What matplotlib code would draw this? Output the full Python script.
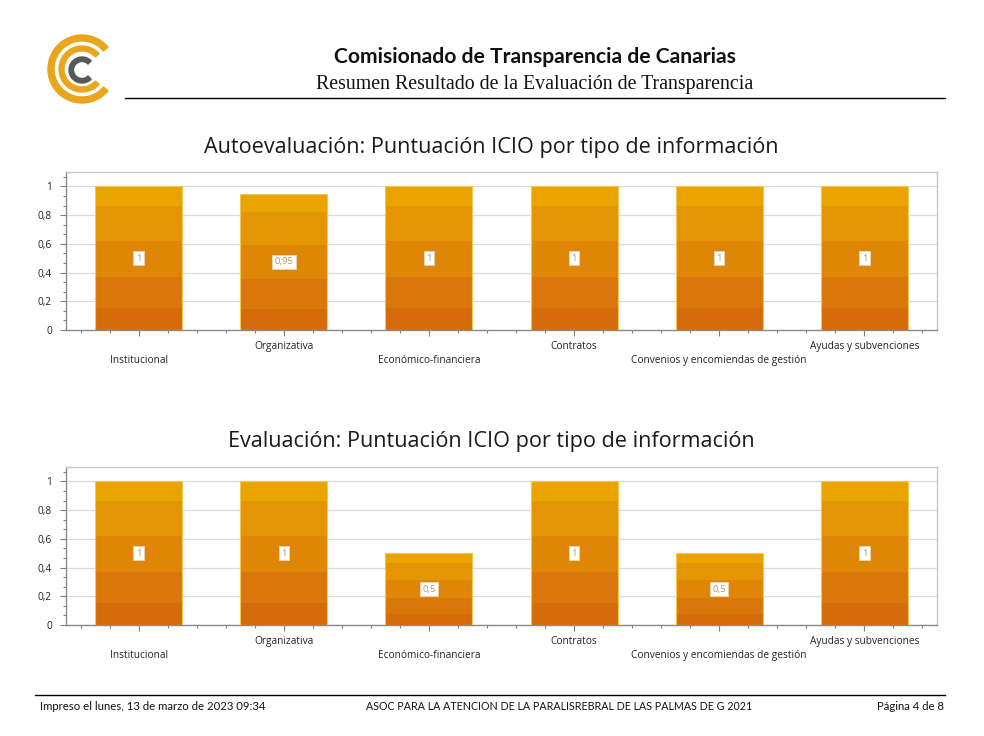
# Resumen de puntuación ICIO por tipo de información
import numpy as np
import matplotlib.pyplot as plt
from matplotlib.patches import Wedge
from matplotlib.ticker import FixedLocator, MultipleLocator, AutoMinorLocator, FuncFormatter

# Datos
categorias = ['Institucional', 'Organizativa', 'Económico-financiera', 'Contratos',
              'Convenios y encomiendas de gestión', 'Ayudas y subvenciones']
autoevaluacion = [1, 0.95, 1, 1, 1, 1]
evaluacion = [1, 1, 0.5, 1, 0.5, 1]

titulo_auto = 'Autoevaluación: Puntuación ICIO por tipo de información'
titulo_eval = 'Evaluación: Puntuación ICIO por tipo de información'

W, H = 984, 736
fig = plt.figure(figsize=(W / 100, H / 100), dpi=100)
fig.patch.set_facecolor('white')

fuente_graf = ['Open Sans', 'DejaVu Sans']
fuente_doc = ['Lato', 'DejaVu Sans']


def fmt_coma(v):
    return f"{v:g}".replace('.', ',')


# bandas del degradado (de abajo a arriba)
cortes = [0.15, 0.37, 0.62, 0.86, 1.0]
colores_banda = ['#D56B0B', '#DA770A', '#DF8606', '#E49503', '#E9A400']
filas = np.linspace(0, 1, 200, endpoint=False) + 0.0025
idx = np.searchsorted(cortes, filas)
rgb = np.array([[int(c[i:i + 2], 16) / 255 for i in (1, 3, 5)] for c in colores_banda])
gradiente = rgb[idx].reshape(200, 1, 3)


def dibujar(top_px, valores, titulo, titulo_y):
    bottom_px = top_px + 158
    ax = fig.add_axes([66 / W, 1 - bottom_px / H, (937 - 66) / W, 158 / H])
    x = np.arange(len(categorias))
    barras = ax.bar(x, valores, width=0.6, color='#DF8606', zorder=2, linewidth=0)
    for rect in barras:
        x0, w, h = rect.get_x(), rect.get_width(), rect.get_height()
        im = ax.imshow(gradiente, extent=(x0, x0 + w, 0, h), aspect='auto',
                       origin='lower', interpolation='nearest', zorder=3)
        im.set_clip_path(rect)
    ax.bar(x, valores, width=0.6, fill=False, edgecolor='#F3C656', linewidth=0.8, zorder=4)
    for xi, v in zip(x, valores):
        ax.text(xi, v / 2, fmt_coma(v), ha='center', va='center', fontsize=6.8,
                color='#B99560', family=fuente_graf, zorder=5,
                bbox=dict(facecolor='white', edgecolor='#E6D8C0', linewidth=0.5,
                          boxstyle='square,pad=0.25'))
    ax.set_xlim(-0.5, len(categorias) - 0.5)
    ax.set_ylim(0, 1.1)

    ax.yaxis.set_major_locator(FixedLocator([0, 0.2, 0.4, 0.6, 0.8, 1.0]))
    ax.yaxis.set_minor_locator(AutoMinorLocator(3))
    ax.yaxis.set_major_formatter(FuncFormatter(lambda v, p: fmt_coma(round(v, 2))))
    ax.grid(axis='y', color='#DADADA', linewidth=0.9, zorder=0)
    ax.set_axisbelow(True)

    ax.xaxis.set_major_locator(FixedLocator(x))
    ax.xaxis.set_minor_locator(MultipleLocator(0.2))
    etiquetas = [('\n' + c) if i % 2 == 0 else c for i, c in enumerate(categorias)]
    ax.set_xticklabels(etiquetas, fontsize=7.3, family=fuente_graf, linespacing=1.4)

    ax.tick_params(axis='both', which='major', direction='out', length=4, width=0.8,
                   color='#7F7F7F', labelcolor='#222222')
    ax.tick_params(axis='both', which='minor', direction='out', length=2, width=0.8,
                   color='#7F7F7F')
    ax.tick_params(axis='x', which='major', pad=4)
    ax.tick_params(axis='y', which='major', labelsize=7.3, pad=6)
    for t in ax.get_yticklabels():
        t.set_family(fuente_graf)
    for lado in ['left', 'bottom']:
        ax.spines[lado].set_color('#8A8A8A')
        ax.spines[lado].set_linewidth(1.0)
    for lado in ['top', 'right']:
        ax.spines[lado].set_color('#C8C8C8')
        ax.spines[lado].set_linewidth(1.0)

    fig.text(491 / W, 1 - titulo_y / H, titulo, ha='center', va='center',
             fontsize=15.6, family=fuente_graf, color='#1A1A1A')


dibujar(172, autoevaluacion, titulo_auto, 147)
dibujar(467, evaluacion, titulo_eval, 441)

# Cabecera
fig.text(535 / W, 1 - 57 / H, 'Comisionado de Transparencia de Canarias', ha='center',
         va='center', fontsize=15.2, fontweight='bold', family=fuente_doc, color='#111111')
fig.text(535 / W, 1 - 85 / H, 'Resumen Resultado de la Evaluación de Transparencia',
         ha='center', va='center', fontsize=14.3, family=['Liberation Serif', 'DejaVu Serif'],
         color='#111111')
fig.add_artist(plt.Line2D([125 / W, 945 / W], [1 - 98 / H, 1 - 98 / H], color='black',
                          linewidth=1.0))

# Logotipo
ax_logo = fig.add_axes([40 / W, 1 - 110 / H, 85 / W, 80 / H])
ax_logo.set_xlim(40, 125)
ax_logo.set_ylim(110, 30)
ax_logo.axis('off')
ax_logo.add_patch(Wedge((82, 69), 34, 40, 320, width=6, color='#E9A61C'))
ax_logo.add_patch(Wedge((82, 69), 23, 42, 318, width=5, color='#E9A61C'))
ax_logo.add_patch(Wedge((82, 70), 13, 45, 315, width=4.5, color='#58585A'))

# Pie de página
fig.add_artist(plt.Line2D([35 / W, 945 / W], [1 - 695 / H, 1 - 695 / H], color='black',
                          linewidth=1.0))
fig.text(40 / W, 1 - 706 / H, 'Impreso el lunes, 13 de marzo de 2023 09:34', ha='left',
         va='center', fontsize=8.2, family=fuente_doc, color='#111111')
fig.text(559 / W, 1 - 706 / H, 'ASOC PARA LA ATENCION DE LA PARALISREBRAL DE LAS PALMAS DE G 2021',
         ha='center', va='center', fontsize=7.7, family=fuente_doc, color='#111111')
fig.text(944 / W, 1 - 706 / H, 'Página 4 de 8', ha='right', va='center', fontsize=8.2,
         family=fuente_doc, color='#111111')

fig.savefig('out.png', dpi=100, facecolor='white')
